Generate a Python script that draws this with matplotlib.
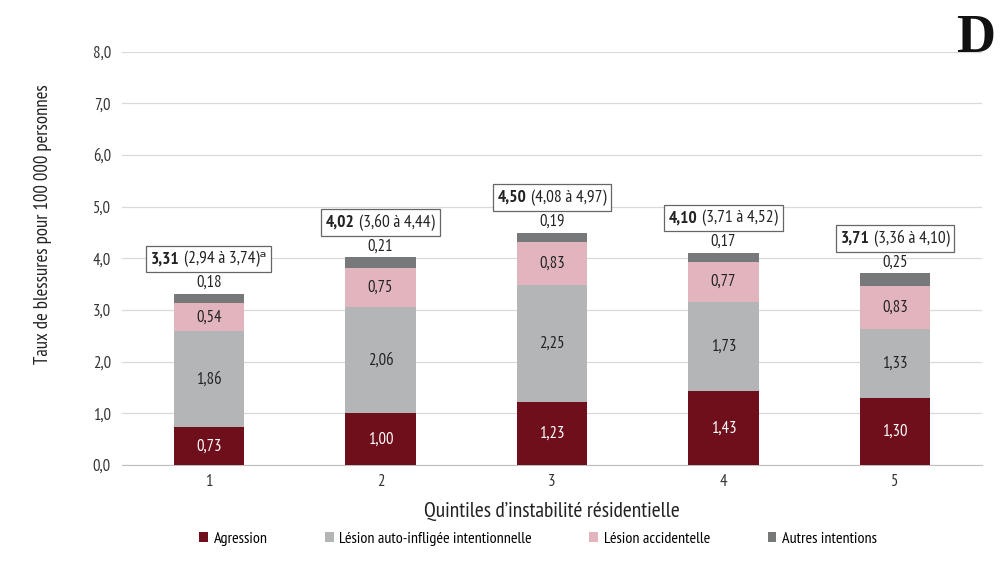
import matplotlib
matplotlib.use("Agg")
import matplotlib.pyplot as plt
from matplotlib.offsetbox import TextArea, HPacker, AnnotationBbox
from matplotlib.patches import Patch
import numpy as np

plt.rcParams['font.family'] = ['PT Sans Narrow', 'DejaVu Sans']

# Données
quintiles = ['1', '2', '3', '4', '5']
agression = [0.73, 1.00, 1.23, 1.43, 1.30]
auto_infligee = [1.86, 2.06, 2.25, 1.73, 1.33]
accidentelle = [0.54, 0.75, 0.83, 0.77, 0.83]
autres = [0.18, 0.21, 0.19, 0.17, 0.25]
totaux = [3.31, 4.02, 4.50, 4.10, 3.71]
ic_bas = [2.94, 3.60, 4.08, 3.71, 3.36]
ic_haut = [3.74, 4.44, 4.97, 4.52, 4.10]
notes = ['ᵃ', '', '', '', '']

series = [
    ('Agression', agression, '#6e0f1b', 'white'),
    ('Lésion auto-infligée intentionnelle', auto_infligee, '#b4b5b7', '#222222'),
    ('Lésion accidentelle', accidentelle, '#e2b5be', '#222222'),
    ('Autres intentions', autres, '#77787a', '#222222'),
]


def fr(v):
    return f"{v:.2f}".replace('.', ',')


fig = plt.figure(figsize=(10, 5.75), dpi=100)
ax = fig.add_axes([0.122, 0.191, 0.86, 0.719])

x = np.arange(len(quintiles))
bottom = np.zeros(len(quintiles))
for name, vals, color, tcol in series:
    vals = np.array(vals)
    ax.bar(x, vals, width=0.41, bottom=bottom, color=color, label=name, zorder=3)
    if name != 'Autres intentions':
        for xi, b, v in zip(x, bottom, vals):
            ax.text(xi, b + v / 2, fr(v), ha='center', va='center',
                    fontsize=12, color=tcol, zorder=4)
    else:
        for xi, b, v in zip(x, bottom, vals):
            ax.text(xi, b + v + 0.06, fr(v), ha='center', va='bottom',
                    fontsize=12, color='#222222', zorder=4)
    bottom += vals

# Boîtes des totaux avec intervalles de confiance
for xi, t, lo, hi, n in zip(x, totaux, ic_bas, ic_haut, notes):
    bold = TextArea(fr(t), textprops=dict(fontsize=12.5, fontweight='bold', color='#222222'))
    rest = TextArea(f"({fr(lo)} à {fr(hi)}){n}", textprops=dict(fontsize=12.5, color='#222222'))
    pack = HPacker(children=[bold, rest], align='baseline', pad=0, sep=3)
    ab = AnnotationBbox(pack, (xi, t + 0.68), frameon=True, pad=0.35, zorder=5,
                        bboxprops=dict(edgecolor='#666666', facecolor='white', linewidth=0.9))
    ax.add_artist(ab)

ax.set_xlim(-0.507, 4.507)
ax.set_ylim(0, 8)
ax.set_yticks(np.arange(0, 8.1, 1))
ax.set_yticklabels([f"{v:.1f}".replace('.', ',') for v in np.arange(0, 8.1, 1)], fontsize=12, color='#333333')
ax.set_xticks(x)
ax.set_xticklabels(quintiles, fontsize=12, color='#333333')
ax.tick_params(axis='y', length=0, pad=8)
ax.tick_params(axis='x', length=0, pad=6)
ax.grid(axis='y', color='#d9d9d9', linewidth=0.9, zorder=0)
for s in ['top', 'right', 'left']:
    ax.spines[s].set_visible(False)
ax.spines['bottom'].set_color('#bfbfbf')

ax.set_ylabel('Taux de blessures pour 100 000 personnes', fontsize=13.5, color='#222222')
ax.yaxis.set_label_coords(-0.081, 0.583)
ax.set_xlabel('Quintiles d’instabilité résidentielle', fontsize=15.5, color='#222222', labelpad=9)

handles = [Patch(facecolor=c, edgecolor='none', label=n) for n, _, c, _ in series]
fig.legend(handles=handles, loc='center', bbox_to_anchor=(0.538, 0.063), ncol=4, frameon=False,
           fontsize=11.5, handlelength=0.55, handleheight=0.55, handletextpad=0.35, columnspacing=3.6)

fig.text(0.976, 0.9096, 'D', family=['Liberation Serif', 'DejaVu Serif'], fontweight='bold',
         fontsize=39, ha='center', va='baseline', color='#111111')

fig.savefig('out.png', dpi=100)
